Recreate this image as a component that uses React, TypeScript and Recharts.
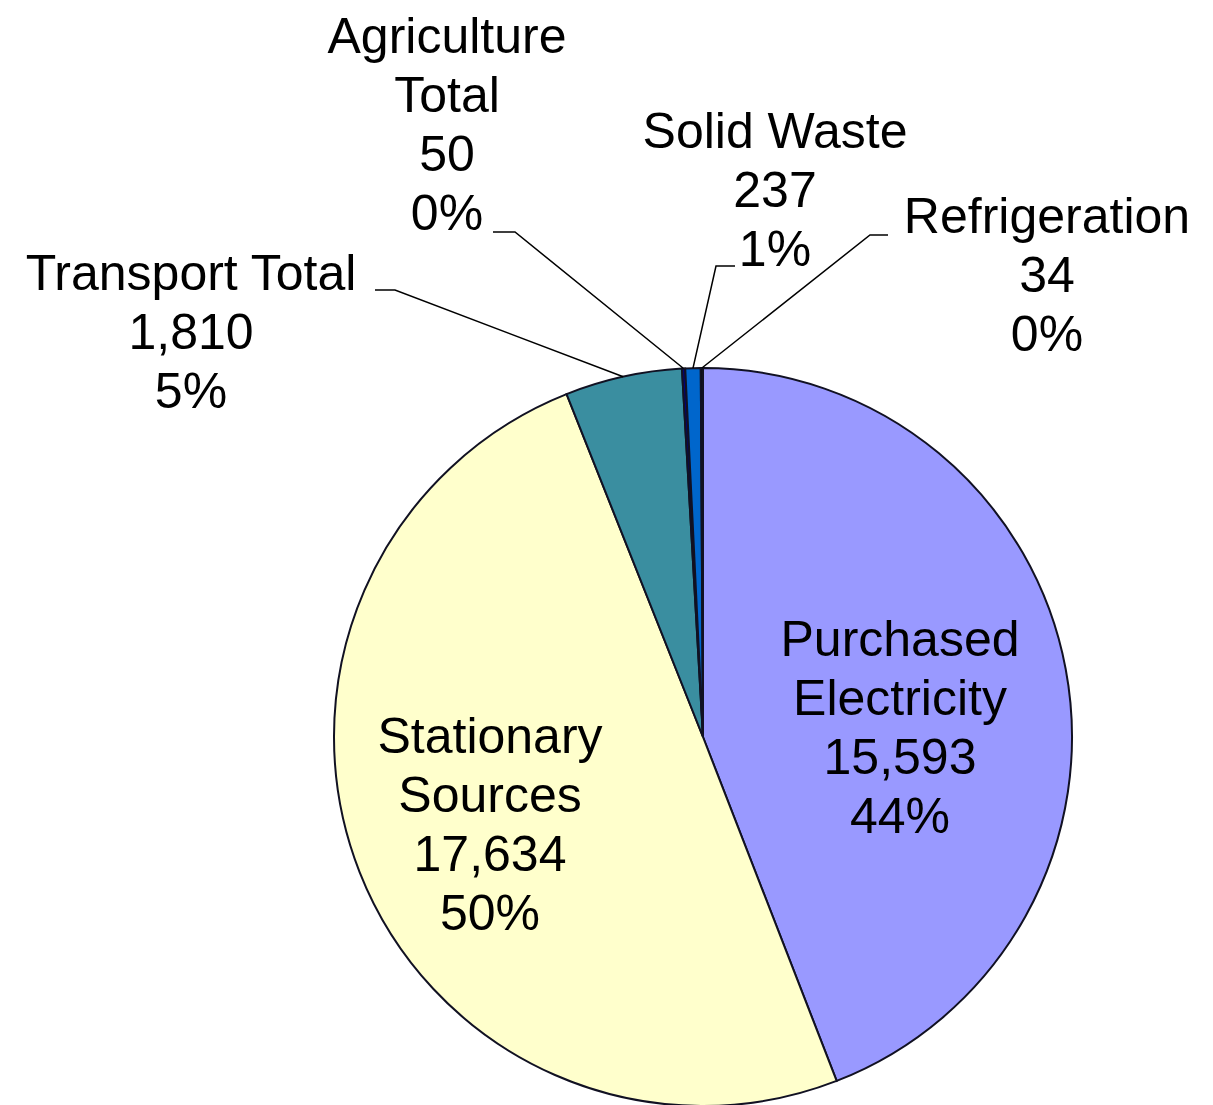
import { PieChart, Pie, Cell } from 'recharts'

// ─── data ─────────────────────────────────────────────────────────────────
const CATEGORIES = [
  'Purchased Electricity',
  'Stationary Sources',
  'Transport Total',
  'Agriculture Total',
  'Solid Waste',
  'Refrigeration',
]
const EMISSIONS = [15593, 17634, 1810, 50, 237, 34]

const COLORS = ['#9999FF', '#FFFFCC', '#3A8EA0', '#000080', '#0066CC', '#000000']

// label blocks, relative to the pie centre: x = text centre, y = first baseline
// tick = short horizontal piece of the leader line [x1, x2, y]
const LABEL_LAYOUT: Record<string, { x: number; y: number; wrap?: boolean; tick?: number[] }> = {
  'Purchased Electricity': { x: 197, y: -81, wrap: true },
  'Stationary Sources': { x: -213, y: 16, wrap: true },
  'Transport Total': { x: -512, y: -447, tick: [-328, -308, -447] },
  'Agriculture Total': { x: -256, y: -684, wrap: true, tick: [-210, -188, -505] },
  'Solid Waste': { x: 72, y: -589, tick: [32, 13, -471] },
  Refrigeration: { x: 344, y: -504, tick: [185, 167, -502] },
}

const FONT = '"Liberation Sans", Arial, sans-serif'
const LINE_H = 59
const RAD = Math.PI / 180

const data = CATEGORIES.map((name, i) => ({ name, value: EMISSIONS[i] }))

function renderLabel(props: any) {
  const { cx, cy, midAngle, outerRadius, name, value, percent } = props
  const layout = LABEL_LAYOUT[name]
  if (!layout) return null
  const title = layout.wrap ? name.split(' ') : [name]
  const lines = [...title, value.toLocaleString('en-US'), `${Math.round(percent * 100)}%`]
  const tx = cx + layout.x
  const ty = cy + layout.y
  let leader = null
  if (layout.tick) {
    const [x1, x2, y] = layout.tick
    const ex = cx + outerRadius * Math.cos(-midAngle * RAD)
    const ey = cy + outerRadius * Math.sin(-midAngle * RAD)
    leader = (
      <path
        d={`M${cx + x1},${cy + y}H${cx + x2}L${ex},${ey}`}
        fill="none"
        stroke="#000"
        strokeWidth={1.5}
      />
    )
  }
  return (
    <g>
      {leader}
      <text x={tx} y={ty} textAnchor="middle" fontFamily={FONT} fontSize={50} fill="#000">
        {lines.map((l, i) => (
          <tspan key={i} x={tx} y={ty + i * LINE_H}>
            {l}
          </tspan>
        ))}
      </text>
    </g>
  )
}

export default function App() {
  return (
    <div style={{ width: 1213, height: 1105, background: '#fff' }}>
      <style>{'body{margin:0}'}</style>
      <PieChart width={1213} height={1105} margin={{ top: 0, right: 0, bottom: 0, left: 0 }}>
        <Pie
          data={data}
          dataKey="value"
          nameKey="name"
          cx={703}
          cy={737}
          outerRadius={369}
          startAngle={90}
          endAngle={-270}
          stroke="#111122"
          strokeWidth={2}
          label={renderLabel}
          labelLine={false}
          isAnimationActive={false}
        >
          {data.map((d, i) => (
            <Cell key={d.name} fill={COLORS[i]} />
          ))}
        </Pie>
      </PieChart>
    </div>
  )
}
